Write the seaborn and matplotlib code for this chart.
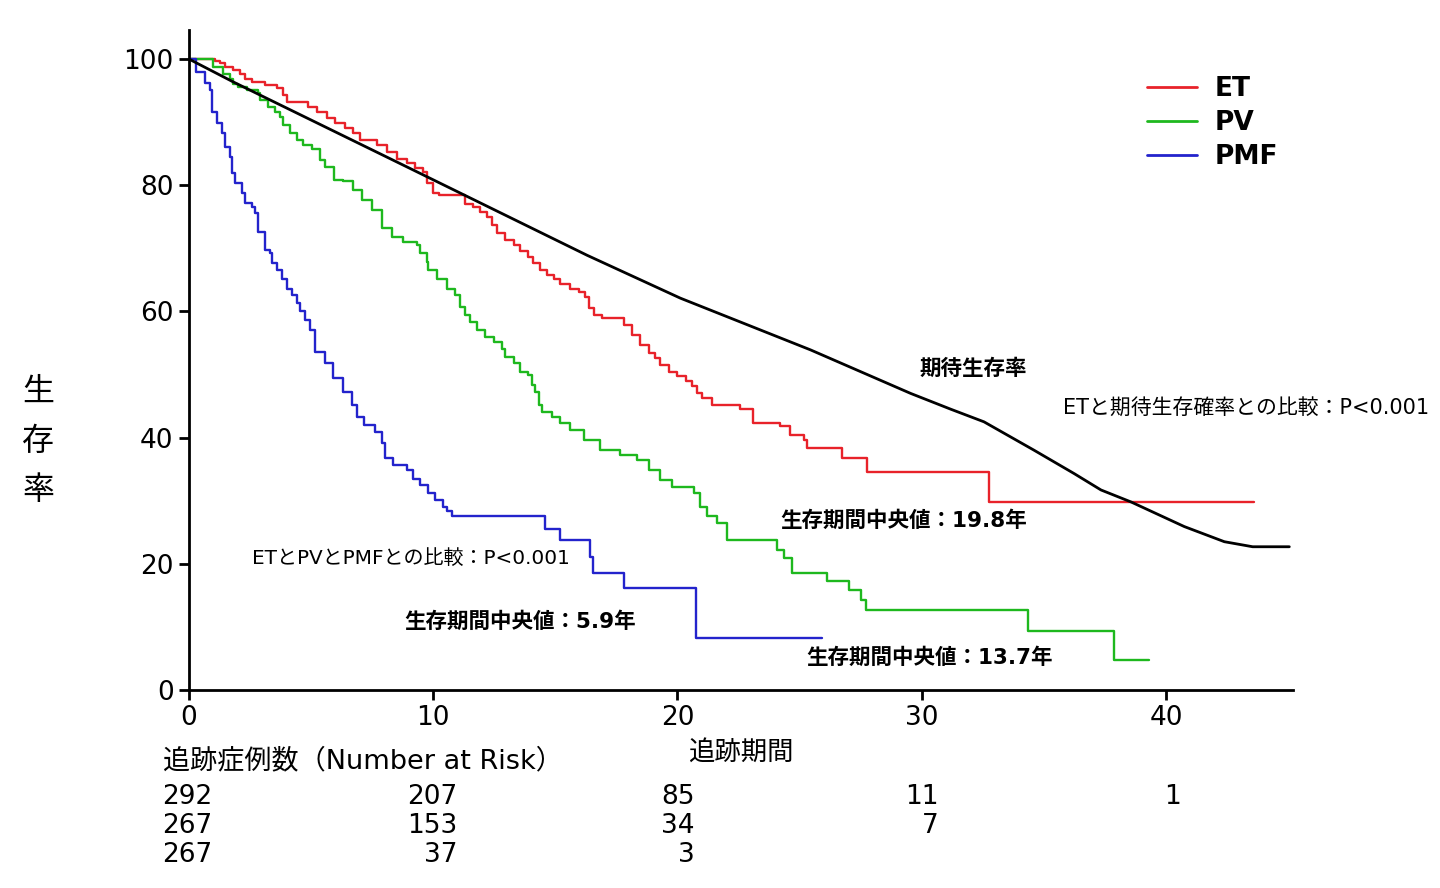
import numpy as np
import pandas as pd
import seaborn as sns
import matplotlib.pyplot as plt
import matplotlib.transforms as mtransforms

# Kaplan-Meier step points (years, survival %)
et_time = [0, 1.07, 1.27, 1.48, 1.82, 2.09, 2.3, 2.57, 3.11, 3.59, 3.87, 4.0, 4.89, 5.23,
           5.64, 5.98, 6.39, 6.73, 7.0, 7.68, 8.09, 8.5, 8.91, 9.26, 9.6, 9.74, 10.01,
           10.22, 11.1, 11.3, 11.65, 11.93, 12.2, 12.4, 12.6, 12.95, 13.3, 13.57, 13.9,
           14.1, 14.38, 14.65, 14.93, 15.2, 15.6, 15.95, 16.23, 16.37, 16.57, 16.91,
           17.8, 18.14, 18.48, 18.83, 19.1, 19.3, 19.64, 19.98, 20.33, 20.6, 20.8, 21.0,
           21.41, 22.57, 23.1, 24.2, 24.6, 25.2, 25.3, 26.74, 27.77, 32.76, 43.6]
et_surv = [100, 99.7, 99.3, 98.8, 98.3, 97.7, 96.9, 96.4, 95.9, 95.4, 94.3, 93.2, 92.4, 91.6,
           90.6, 89.8, 89.0, 88.2, 87.2, 86.4, 85.3, 84.2, 83.5, 82.7, 82.1, 80.3, 78.7,
           78.4, 78.4, 77.1, 76.6, 75.8, 75.0, 73.7, 72.4, 71.3, 70.5, 69.5, 68.7,
           67.6, 66.6, 65.8, 65.2, 64.4, 63.6, 63.1, 62.3, 60.5, 59.4, 58.9,
           57.8, 56.3, 54.7, 53.4, 52.6, 51.5, 50.4, 49.7, 48.9, 48.1, 47.0, 46.2,
           45.2, 44.6, 42.3, 41.8, 40.4, 39.6, 38.3, 36.7, 34.6, 29.8, 29.8]

pv_time = [0, 1.0, 1.4, 1.68, 1.82, 2.0, 2.36, 2.84, 2.91, 3.25, 3.52, 3.73, 3.87, 4.14,
           4.41, 4.69, 5.03, 5.37, 5.57, 5.92, 6.32, 6.73, 7.07, 7.48, 7.9, 8.3, 8.78,
           9.33, 9.47, 9.74, 9.8, 10.15, 10.56, 10.9, 11.1, 11.3, 11.5, 11.79, 12.13,
           12.47, 12.8, 12.95, 13.3, 13.57, 13.9, 14.04, 14.18, 14.32, 14.45, 14.86,
           15.2, 15.6, 16.16, 16.84, 17.66, 18.35, 18.83, 19.3, 19.78, 20.67, 20.94,
           21.22, 21.63, 22.04, 24.08, 24.36, 24.7, 26.13, 27.02, 27.5, 27.7, 34.35,
           37.88, 39.3]
pv_surv = [100, 98.8, 97.7, 96.9, 96.1, 95.6, 95.1, 94.6, 93.5, 92.4, 91.6, 90.8, 89.5, 88.2,
           87.2, 86.4, 85.8, 84.0, 82.9, 80.8, 80.6, 79.2, 77.7, 76.1, 73.2, 71.8, 71.0,
           70.5, 69.2, 67.9, 66.6, 65.2, 63.6, 62.6, 60.7, 59.4, 58.4, 57.0, 56.0,
           55.2, 54.1, 52.8, 51.8, 50.4, 49.9, 48.3, 47.3, 45.2, 44.1, 43.3,
           42.3, 41.2, 39.6, 38.0, 37.2, 36.4, 34.9, 33.3, 32.2, 31.2, 29.0,
           27.5, 26.4, 23.8, 22.2, 20.9, 18.5, 17.2, 15.8, 14.3, 12.7, 9.4,
           4.8, 4.8]

pmf_time = [0, 0.3, 0.66, 0.86, 0.93, 1.13, 1.34, 1.48, 1.68, 1.75, 1.89, 2.16, 2.3, 2.57,
            2.7, 2.84, 3.11, 3.32, 3.39, 3.59, 3.8, 4.0, 4.21, 4.41, 4.55, 4.75, 4.96,
            5.16, 5.57, 5.9, 6.32, 6.66, 6.87, 7.15, 7.62, 7.9, 8.03, 8.37, 8.92, 9.19,
            9.47, 9.8, 10.08, 10.42, 10.56, 10.77, 14.59, 15.2, 16.4, 16.56, 17.8,
            20.74, 25.9]
pmf_surv = [100, 98.0, 96.2, 95.1, 91.6, 89.8, 88.3, 86.1, 84.5, 81.9, 80.3, 78.8, 77.2, 76.6,
            75.6, 72.6, 69.7, 69.2, 67.6, 66.6, 65.2, 63.6, 62.6, 61.3, 60.0, 58.6, 57.0,
            53.6, 51.8, 49.4, 47.3, 45.2, 43.3, 42.0, 40.9, 39.1, 36.7, 35.7, 34.9, 33.5,
            32.5, 31.2, 30.1, 29.0, 28.3, 27.6, 25.5, 23.7, 21.1, 18.6, 16.2,
            8.2, 8.2]

# expected survival (smooth)
exp_time = [0, 1.8, 9.19, 16.3, 20.12, 25.45, 29.55, 31.19, 32.55, 34.6, 36.24, 37.34,
            38.57, 40.75, 42.39, 43.55, 45.05]
exp_surv = [100, 96.4, 82.4, 68.9, 62.1, 53.9, 47.0, 44.5, 42.5, 38.0, 34.3, 31.7,
            29.8, 25.9, 23.5, 22.7, 22.7]

x_ticks = [0, 10, 20, 30, 40]
y_ticks = [0, 20, 40, 60, 80, 100]

risk_et = [292, 207, 85, 11, 1]
risk_pv = [267, 153, 34, 7]
risk_pmf = [267, 37, 3]

groups = ['ET', 'PV', 'PMF']
colors = ['#e8222a', '#1eb81e', '#2323cc']

sns.set_style('ticks', {'axes.edgecolor': 'black', 'text.color': 'black',
                        'xtick.color': 'black', 'ytick.color': 'black',
                        'axes.labelcolor': 'black'})
plt.rcParams['font.family'] = ['DejaVu Sans', 'Noto Sans CJK JP']

fig = plt.figure(figsize=(14.4, 8.88), dpi=100)
ax = fig.add_axes([0.1312, 0.2230, 0.7667, 0.7432])

for name, t, s, c in zip(groups, [et_time, pv_time, pmf_time],
                         [et_surv, pv_surv, pmf_surv], colors):
    df = pd.DataFrame({'time': t, 'surv': s})
    sns.lineplot(data=df, x='time', y='surv', ax=ax, color=c, lw=1.7,
                 drawstyle='steps-post', estimator=None, label=name)

exp_df = pd.DataFrame({'time': exp_time, 'surv': exp_surv})
sns.lineplot(data=exp_df, x='time', y='surv', ax=ax, color='black', lw=2,
             estimator=None)

ax.set_xlim(0, 45.2)
ax.set_ylim(0, 104.6)
ax.set_xticks(x_ticks)
ax.set_yticks(y_ticks)
ax.set_xlabel('')
ax.set_ylabel('')
sns.despine(ax=ax)
for sp in ['left', 'bottom']:
    ax.spines[sp].set_linewidth(2)
    ax.spines[sp].set_color('black')
ax.tick_params(axis='both', length=7, width=2, labelsize=19, pad=4,
               colors='black')

leg = ax.legend(loc='upper left', bbox_to_anchor=(1147 / 1440, 1 - 76 / 888),
                bbox_transform=fig.transFigure, frameon=False, borderpad=0,
                borderaxespad=0, handlelength=1.9, handletextpad=0.68,
                labelspacing=0.3, prop={'size': 19, 'weight': 'bold'})
for h in leg.get_lines():
    h.set_linewidth(2)
for txt in leg.get_texts():
    txt.set_color('black')

# annotations
bold = dict(fontsize=15.5, fontweight='bold', ha='center', va='center', color='black')
ax.text(32.13, 50.9, '期待生存率', **bold)
ax.text(29.26, 26.9, '生存期間中央値：19.8年', **bold)
ax.text(13.57, 10.8, '生存期間中央値：5.9年', **bold)
ax.text(30.33, 5.2, '生存期間中央値：13.7年', **bold)
ax.text(43.26, 44.7, 'ETと期待生存確率との比較：P<0.001', fontsize=15, ha='center',
        va='center', color='black')
ax.text(9.1, 20.9, 'ETとPVとPMFとの比較：P<0.001', fontsize=14.4, ha='center',
        va='center', color='black')

# y label, stacked characters
fig.text(38 / 1440, 1 - 441 / 888, '生\n存\n率', fontsize=23, ha='center', va='center',
         linespacing=1.75, color='black')

fig.text(741 / 1440, 1 - 753 / 888, '追跡期間', fontsize=19, ha='center', va='center',
         color='black')
fig.text(163 / 1440, 1 - 761 / 888, '追跡症例数（Number at Risk）', fontsize=19.5,
         ha='left', va='center', color='black')

# number at risk table
trans = mtransforms.blended_transform_factory(ax.transData, fig.transFigure)
col_x = [0.98, 11.0, 20.7, 30.7, 40.6]
row_y = [1 - 797 / 888, 1 - 826 / 888, 1 - 855 / 888]
for row, vals in zip(row_y, [risk_et, risk_pv, risk_pmf]):
    for cx, v in zip(col_x, vals):
        ax.text(cx, row, str(v), transform=trans, fontsize=19, ha='right', va='center',
                color='black')

fig.savefig('out.png', dpi=100)
